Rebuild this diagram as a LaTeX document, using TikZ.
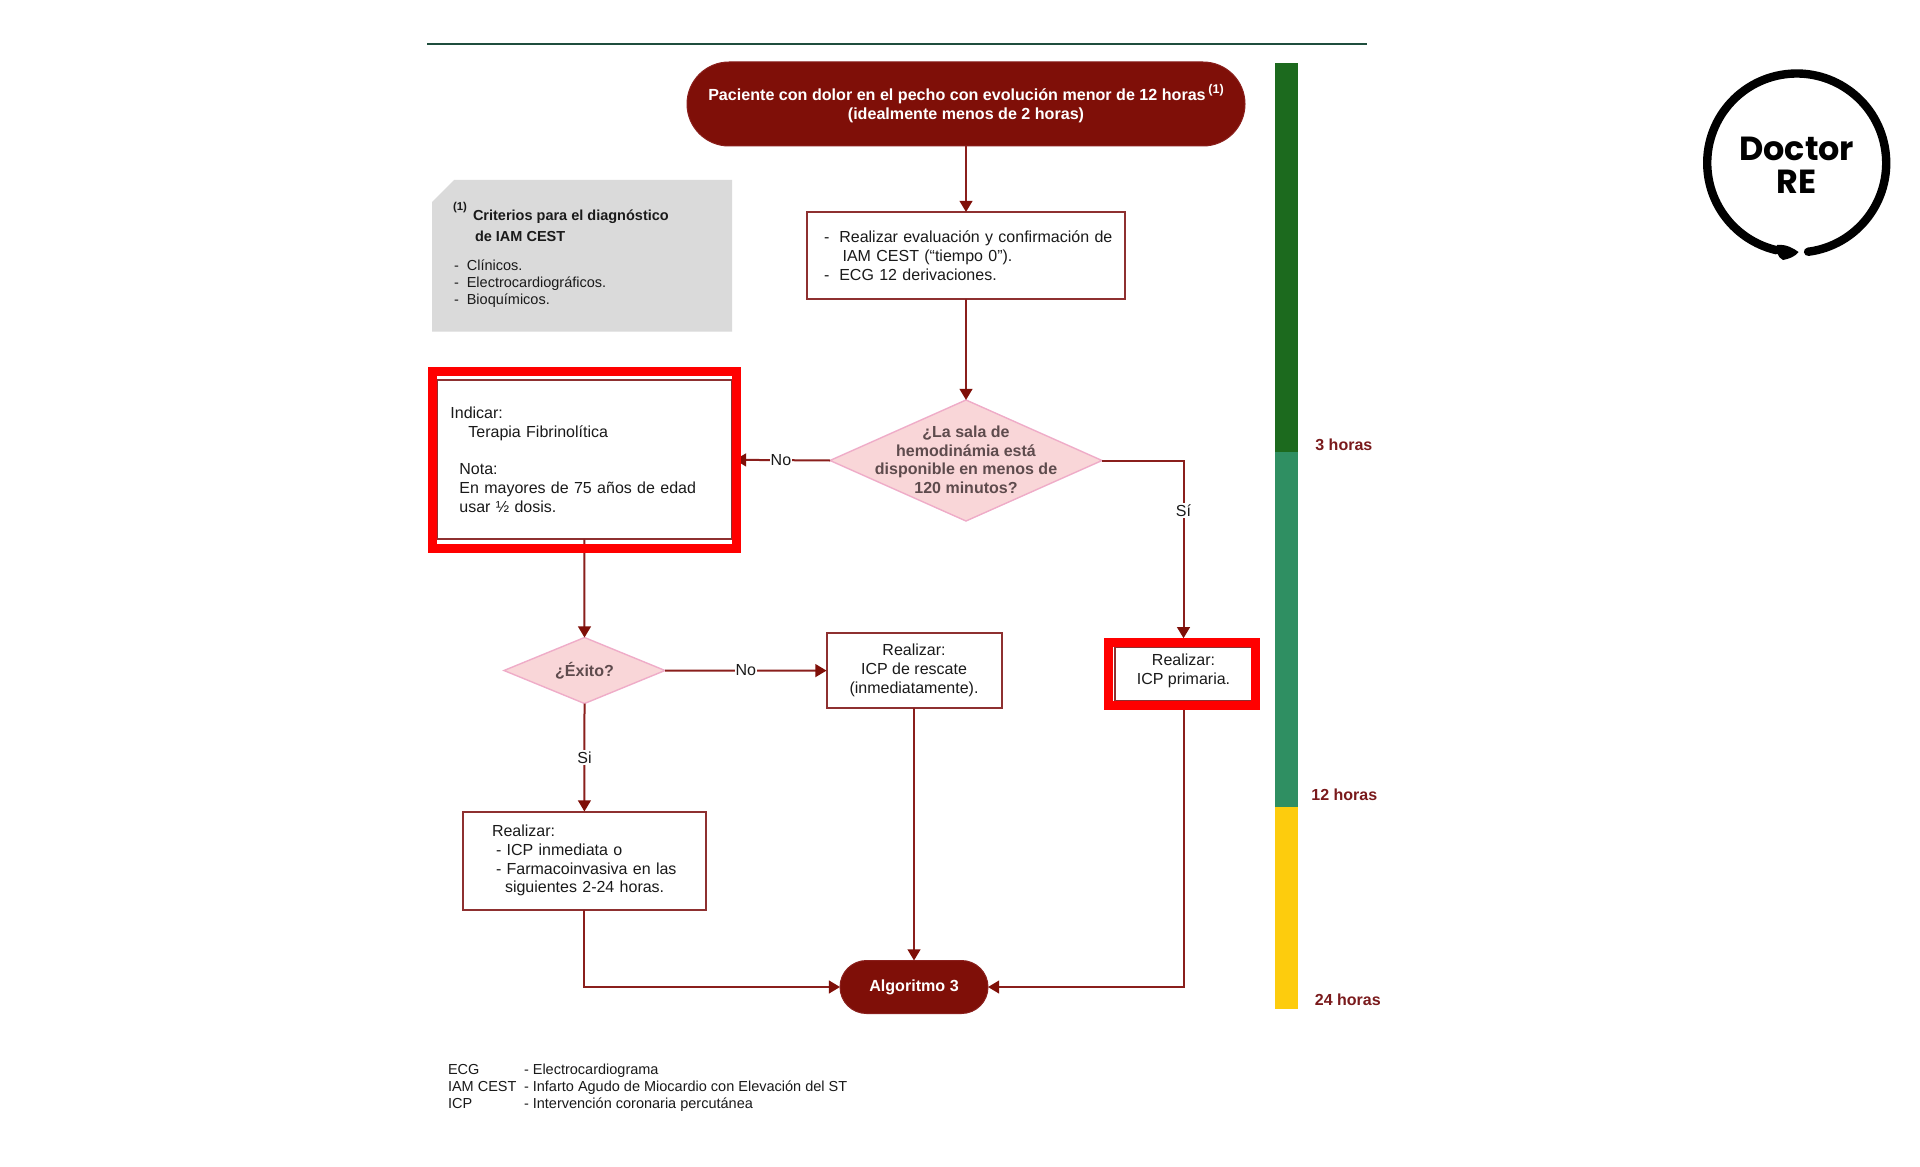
\documentclass[tikz,border=0pt]{standalone}
\usepackage{fontspec}
\setmainfont{Liberation Sans}
\newfontfamily\logofont{Poppins}
\usetikzlibrary{arrows.meta,shapes.geometric,shapes.misc,calc}
\definecolor{darkred}{HTML}{7F0F08}
\definecolor{lineRed}{HTML}{8A1F1C}
\definecolor{boxRed}{HTML}{8E3030}
\definecolor{pinkFill}{HTML}{F9D6D8}
\definecolor{pinkLine}{HTML}{EFACC8}
\definecolor{greyNote}{HTML}{DADADA}
\definecolor{topLine}{HTML}{1F4E3D}
\definecolor{barA}{HTML}{1C6A1E}
\definecolor{barB}{HTML}{2F8F62}
\definecolor{barC}{HTML}{FDCC0D}
\definecolor{hourText}{HTML}{7A1A1C}
\definecolor{diaText}{HTML}{5E4B4D}
\definecolor{bodyText}{HTML}{1A1A1A}
\tikzset{
  bodyfont/.style={font=\fontsize{8}{9.4}\selectfont,text=bodyText},
  smallfont/.style={font=\fontsize{7.25}{8.5}\selectfont,text=bodyText},
  pill/.style={rounded rectangle,rounded rectangle arc length=180,fill=darkred,draw=lineRed,line width=.5pt,inner sep=0pt,outer sep=0pt,text=white,align=center,font=\fontsize{8.05}{9.4}\selectfont\bfseries},
  flowbox/.style={rectangle,draw=boxRed,line width=1pt,fill=white,inner sep=0pt,outer sep=0pt,align=left,bodyfont},
  flowboxc/.style={flowbox,align=center},
  decision/.style={diamond,draw=pinkLine,fill=pinkFill,line width=.7pt,inner sep=0pt,outer sep=0pt},
  dectext/.style={align=center,text=diaText,font=\fontsize{8}{9.35}\selectfont\bfseries,inner sep=0pt},
  conn/.style={draw=lineRed,line width=1pt,-{Triangle[length=5.6pt,width=6.4pt,color=darkred]}},
  edgetext/.style={fill=white,inner xsep=.4pt,inner ysep=.6pt,bodyfont},
  redframe/.style={rectangle,draw=red,line width=4.7pt,inner sep=0pt,outer sep=0pt},
  hour/.style={font=\fontsize{8}{9.4}\selectfont\bfseries,text=hourText,inner sep=0pt},
  plain/.style={inner sep=0pt,outer sep=0pt,anchor=west,align=left},
}
\begin{document}
\begin{tikzpicture}[x=0.5pt,y=-0.5pt]
\useasboundingbox[fill=white] (0,0) rectangle (1920,1166);

% top rule
\coordinate (ruleL) at (427,44.5);
\coordinate (ruleR) at (1367,44.5);
\draw[topLine,line width=1pt] (ruleL) -- (ruleR);

% time bars
\fill[barA] (1275,63.5) rectangle (1298,452);
\fill[barB] (1275,452) rectangle (1298,806.5);
\fill[barC] (1275,806.5) rectangle (1298,1009);
\node[hour,anchor=west] (h3) at (1315,444.5) {3 horas};
\node[hour,anchor=west] (h12) at (1311,795) {12 horas};
\node[hour,anchor=west] (h24) at (1314.5,1000) {24 horas};

% grey note
\fill[greyNote] (454,180) -- (732,180) -- (732,331.7) -- (432,331.7) -- (432,202) -- cycle;
\node[plain,font=\fontsize{5.7}{6}\selectfont\bfseries,text=bodyText] (nsup) at (453,207.5) {(1)};
\node[plain,font=\fontsize{7.25}{10.5}\selectfont\bfseries,text=bodyText] (ntitle) at (473,225.5) {Criterios para el diagnóstico\\\hspace{1pt}de IAM CEST};
\node[plain,smallfont] (nlist) at (454,284) {-\hspace{4pt}Clínicos.\\-\hspace{4pt}Electrocardiográficos.\\-\hspace{4pt}Bioquímicos.};

% flow nodes
\node[pill,minimum width=279pt,minimum height=42pt] (start) at (966,104)
  {Paciente con dolor en el pecho con evolución menor de 12 horas\,\raisebox{3.5pt}{\fontsize{6.3}{6.5}\selectfont (1)}\\(idealmente menos de 2 horas)};
\node[flowbox,minimum width=159.25pt,minimum height=43.5pt,text width=147pt] (eval) at (966,255.5)
  {\hspace{2.5pt}-\hspace{5pt}Realizar evaluación y confirmación de\\\hspace{11.8pt}IAM CEST (“tiempo 0”).\\\hspace{2.5pt}-\hspace{5pt}ECG 12 derivaciones.};
\node[decision,minimum width=136pt,minimum height=60.5pt,aspect=2.25] (hemo) at (966,460.5) {};
\node[dectext] (hemot) at ($(hemo.center)+(0,-0.6)$) {¿La sala de\\hemodinámia está\\disponible en menos de\\120 minutos?};
\node[flowbox,minimum width=147.5pt,minimum height=79.65pt,text width=134pt] (fibri) at (584.4,459.8)
  {Indicar:\\\hspace{9pt}Terapia Fibrinolítica\\[9.4pt]\hspace{4.5pt}Nota:\\\hspace{4.5pt}En mayores de 75 años de edad\\\hspace{4.5pt}usar ½ dosis.};
\node[decision,minimum width=80.5pt,minimum height=33pt,aspect=2.44] (exito) at (584.5,670.5) {};
\node[dectext] (exitot) at (exito) {¿Éxito?};
\node[flowboxc,minimum width=87.5pt,minimum height=37.5pt] (rescate) at (914,670.6)
  {Realizar:\\ICP de rescate\\(inmediatamente).};
\node[flowbox,minimum width=121.6pt,minimum height=49pt,text width=110pt] (farma) at (584.4,860.5)
  {\hspace{8.8pt}Realizar:\\\hspace{10.8pt}- ICP inmediata o\\\hspace{10.8pt}- Farmacoinvasiva en las\\\hspace{15.3pt}siguientes 2-24 horas.};
\node[flowbox,minimum width=68.25pt,minimum height=26.75pt] (prim) at (1183.5,674) {};
\node[align=center,inner sep=0pt,bodyfont] (primt) at (1183.5,671) {Realizar:\\ICP primaria.};
\node[pill,minimum width=74pt,minimum height=26.5pt] (algo) at (914,987) {Algoritmo 3};

% connectors
\draw[conn] (start) -- (eval);
\draw[conn] (eval) -- (hemo);
\draw[conn,shorten >=1.5pt] (hemo.west) -- node[edgetext,pos=.5] (noA) {No} (fibri.east);
\draw[conn,shorten >=4.5pt] (hemo.east) -| node[edgetext,pos=.634] (siA) {Sí} (prim.north);
\draw[conn] (fibri.south) -- (exito.north);
\draw[conn] (exito.east) -- node[edgetext,pos=.5] (noB) {No} (rescate.west);
\draw[conn] (exito.south) -- node[edgetext,pos=.5] (siB) {Si} (farma.north);
\draw[conn] (rescate.south) -- (algo.north);
\draw[conn] (farma.south) |- (algo.west);
\draw[conn] (prim.south) |- (algo.east);

% red highlights
\node[redframe,minimum width=152pt,minimum height=88.3pt] (frameA) at (584.2,460) {};
\node[redframe,minimum width=73.5pt,minimum height=31.5pt] (frameB) at (1182,674) {};

% legend
\node[plain,smallfont] (legend) at (448,1087.5)
  {\makebox[38pt][l]{ECG}- Electrocardiograma\\\makebox[38pt][l]{IAM CEST}- Infarto Agudo de Miocardio con Elevación del ST\\\makebox[38pt][l]{ICP}- Intervención coronaria percutánea};

% logo
\coordinate (logoC) at (1796.7,163);
\draw[black,line width=4.2pt,line cap=round] ($(logoC)+(-82.7:44.75pt)$) arc[start angle=-82.7,end angle=257,radius=44.75pt];
\fill[black] (1777,245) .. controls (1786,244) and (1793,248) .. (1798.5,252) .. controls (1796,256) and (1789,259) .. (1783,260) .. controls (1778,258) and (1775,250) .. (1777,245) -- cycle;
\node[font=\logofont\fontsize{16.7}{16.5}\selectfont\bfseries,align=center,inner sep=0pt,text=black] (logo) at (1796.7,165) {Doctor\\RE};
\end{tikzpicture}
\end{document}
